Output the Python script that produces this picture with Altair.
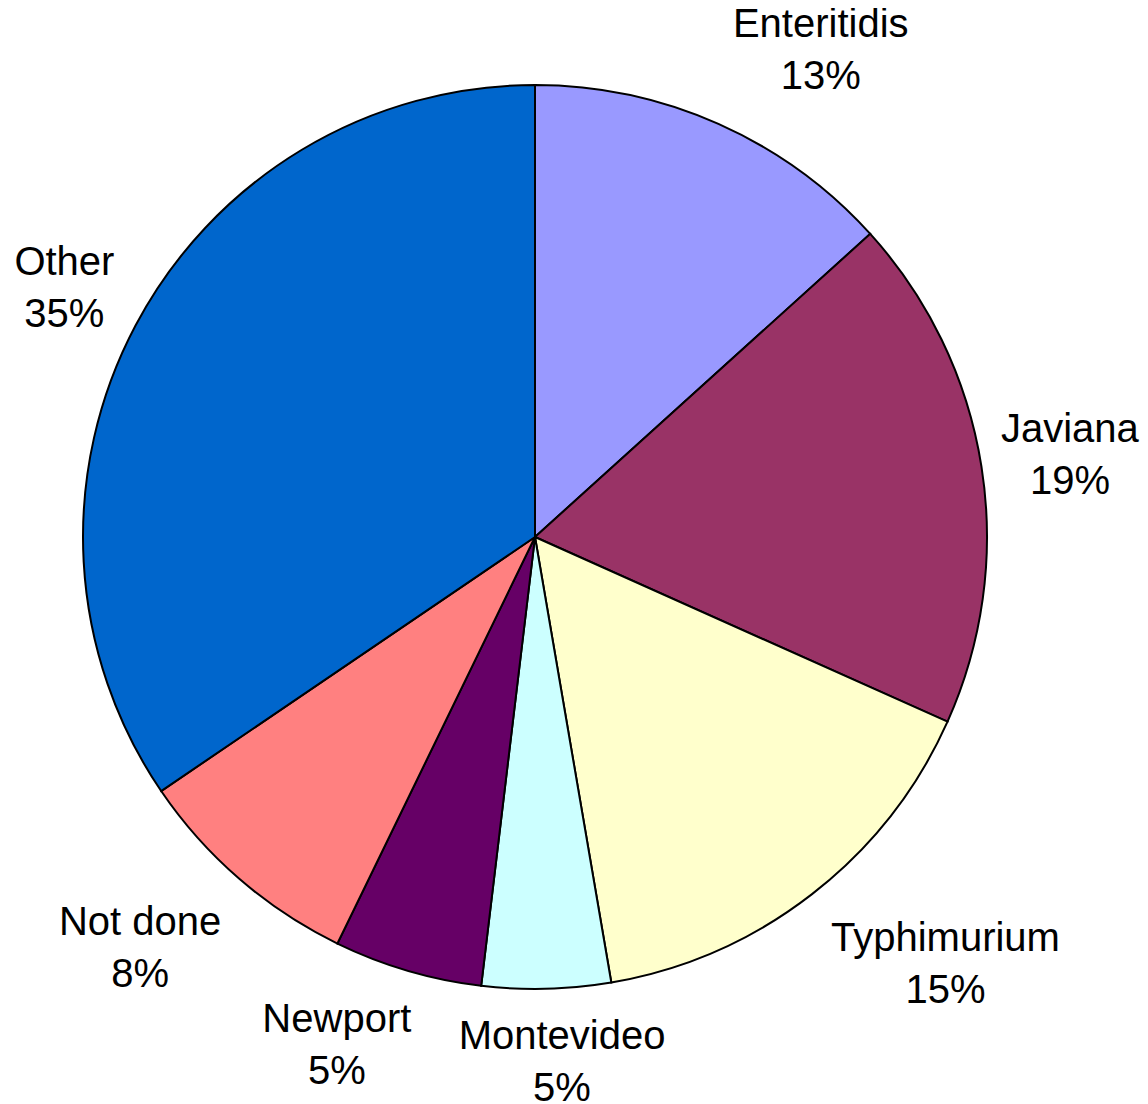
import altair as alt
import pandas as pd

names = ["Enteritidis", "Javiana", "Typhimurium", "Montevideo", "Newport", "Not done", "Other"]
shares = [13.3, 18.4, 15.6, 4.6, 5.3, 8.3, 34.5]
pct_labels = ["13%", "19%", "15%", "5%", "5%", "8%", "35%"]

# styling / layout (not data)
colors = ["#9999FF", "#993366", "#FFFFCC", "#CCFFFF", "#660066", "#FF8080", "#0066CC"]
label_radius = [564, 541, 593, 527, 546, 571, 532]
label_nudge_deg = [6.5, 0.4, -6.0, -1.5, 4.9, 2.9, -0.1]

df = pd.DataFrame({
    "name": names,
    "share": shares,
    "label": [f"{n}\n{p}" for n, p in zip(names, pct_labels)],
    "lr": label_radius,
})
total = df["share"].sum()
df["end"] = df["share"].cumsum()
df["start"] = df["end"] - df["share"]
df["lab_theta"] = (df["start"] + df["end"]) / 2 + pd.Series(label_nudge_deg) * total / 360.0

tscale = alt.Scale(domain=[0, total], range=[0, 6.283185307179586])

pie = alt.Chart(df).mark_arc(outerRadius=452, stroke="black", strokeWidth=2).encode(
    theta=alt.Theta("start:Q", scale=tscale, stack=None),
    theta2="end:Q",
    color=alt.Color("name:N", scale=alt.Scale(domain=names, range=colors), legend=None),
)

text = alt.Chart(df).mark_text(
    font="Liberation Sans", fontSize=40, lineBreak="\n", lineHeight=52, dy=-26,
    baseline="middle", align="center", color="black"
).encode(
    theta=alt.Theta("lab_theta:Q", scale=tscale, stack=None),
    radius=alt.Radius("lr:Q", scale=None),
    text="label:N",
)

chart = (pie + text).properties(
    width=1054, height=1058,
    autosize="none",
    padding={"left": 0, "top": 0, "right": 78, "bottom": 50},
).configure_view(stroke=None)

chart.save("out.html", embed_options={"renderer": "svg", "actions": False})
